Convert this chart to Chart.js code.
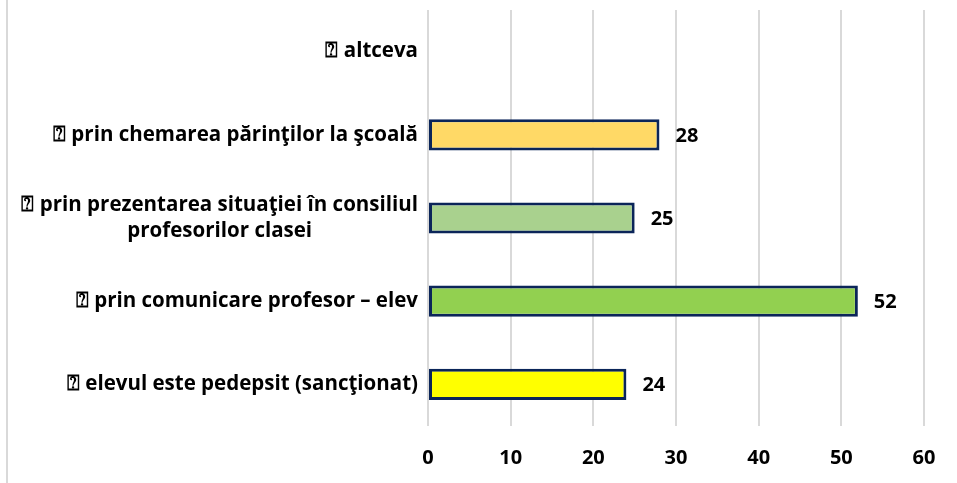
<!DOCTYPE html>
<html>
<head>
<meta charset="utf-8">
<script src="https://cdn.jsdelivr.net/npm/chart.js@4"></script>
<style>
html,body{margin:0;padding:0;background:#fff;}
#wrap{position:relative;width:957px;height:483px;}
#leftline{position:absolute;left:6px;top:0;width:2px;height:483px;background:#d9d9d9;}
canvas{position:absolute;left:0;top:0;}
</style>
</head>
<body>
<div id="wrap">
<div id="leftline"></div>
<canvas id="c" width="957" height="483"></canvas>
</div>
<script>
const BOX = "\u2370";
const categories = [
  [BOX + " altceva"],
  [BOX + " prin chemarea părinţilor la şcoală"],
  [BOX + " prin prezentarea situaţiei în consiliul", "profesorilor clasei"],
  [BOX + " prin comunicare profesor – elev"],
  [BOX + " elevul este pedepsit (sancţionat)"]
];
const values = [null, 28, 25, 52, 24];
const barColors = ["#FFFFFF", "#FFD966", "#A9D18E", "#92D050", "#FFFF00"];
const xTicks = [0, 10, 20, 30, 40, 50, 60];

const FAMILY = "'Open Sans', sans-serif";
const LABEL_FONT = "bold 20.5px " + FAMILY;
const VALUE_FONT = "bold 20px " + FAMILY;

const labelPlugin = {
  id: 'labels',
  afterDraw(chart) {
    const ctx = chart.ctx;
    const meta = chart.getDatasetMeta(0);
    const yScale = chart.scales.y;
    ctx.save();
    ctx.fillStyle = '#000';
    ctx.textBaseline = 'middle';
    ctx.font = VALUE_FONT;
    meta.data.forEach((bar, i) => {
      const v = values[i];
      if (v === null || v === undefined) return;
      ctx.textAlign = 'left';
      ctx.fillText(String(v), bar.x + 16, bar.y + 1);
    });
    ctx.font = LABEL_FONT;
    const rightEdge = chart.chartArea.left - 10;
    const lh = 26;
    categories.forEach((lines, i) => {
      const yc = yScale.getPixelForValue(i);
      const widths = lines.map(l => ctx.measureText(l).width);
      const maxW = Math.max(...widths);
      const cx = rightEdge - maxW / 2;
      const y0 = yc - (lines.length - 1) * lh / 2;
      ctx.textAlign = 'center';
      lines.forEach((l, k) => ctx.fillText(l, cx, y0 + k * lh));
    });
    ctx.restore();
  }
};

new Chart(document.getElementById('c'), {
  type: 'bar',
  data: {
    labels: categories,
    datasets: [{
      data: values,
      backgroundColor: barColors,
      borderColor: '#0B2559',
      borderWidth: 3,
      borderSkipped: false,
      categoryPercentage: 1,
      barPercentage: 0.375
    }]
  },
  options: {
    indexAxis: 'y',
    responsive: false,
    animation: false,
    devicePixelRatio: 1,
    layout: { padding: { left: 428, right: 33, top: 10, bottom: 0 } },
    plugins: { legend: { display: false }, tooltip: { enabled: false } },
    scales: {
      x: {
        min: 0, max: 60,
        afterBuildTicks(scale) { scale.ticks = xTicks.map(v => ({ value: v })); },
        afterFit(scale) { scale.height = 57; },
        grid: { color: '#d9d9d9', lineWidth: 2, drawTicks: false },
        border: { display: false },
        ticks: { color: '#000', font: { family: FAMILY, size: 20, weight: 'bold' }, padding: 20 }
      },
      y: {
        afterFit(scale) { scale.width = 0; },
        grid: { display: false },
        border: { display: false },
        ticks: { display: false }
      }
    }
  },
  plugins: [labelPlugin]
});
</script>
</body>
</html>
